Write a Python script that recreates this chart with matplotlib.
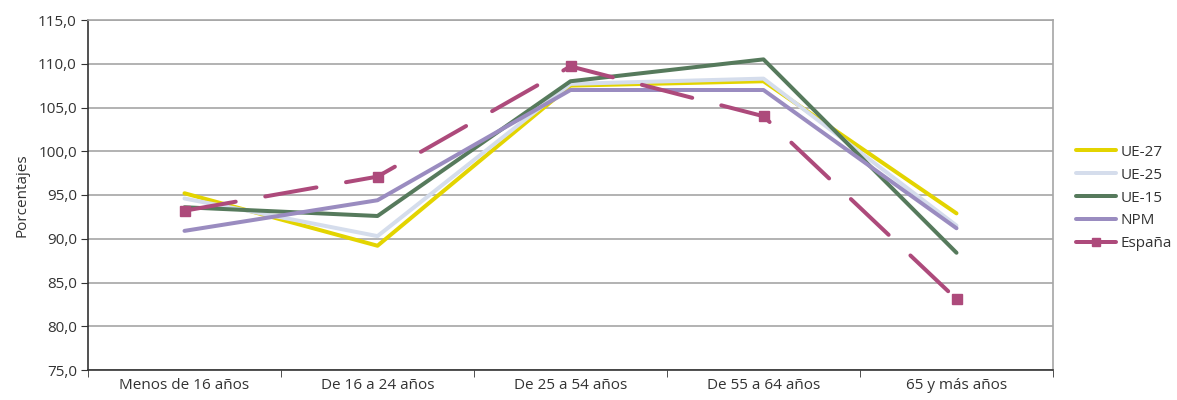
import matplotlib.pyplot as plt
import numpy as np

categorias = ['Menos de 16 años', 'De 16 a 24 años', 'De 25 a 54 años',
              'De 55 a 64 años', '65 y más años']
ue27 = [95.2, 89.2, 107.5, 108.0, 92.9]
ue25 = [94.6, 90.3, 107.7, 108.3, 91.5]
ue15 = [93.6, 92.6, 108.0, 110.5, 88.4]
npm = [90.9, 94.4, 107.0, 107.0, 91.2]
espana = [93.2, 97.1, 109.7, 104.0, 83.1]

plt.rcParams['font.family'] = ['Open Sans', 'DejaVu Sans']

fig = plt.figure(figsize=(11.77, 4.0), dpi=100)
ax = fig.add_axes([88/1177, 30/400, 965/1177, 350/400])

x = np.arange(len(categorias))
lw = 4.0 * 72 / 100
ax.plot(x, ue27, color='#e3d400', lw=lw, label='UE-27', solid_capstyle='round')
ax.plot(x, ue25, color='#d5ddec', lw=lw, label='UE-25', solid_capstyle='round')
ax.plot(x, ue15, color='#567a5c', lw=lw, label='UE-15', solid_capstyle='round')
ax.plot(x, npm, color='#9a8cc0', lw=lw, label='NPM', solid_capstyle='round')
ax.plot(x, espana, color='#ad4a7b', lw=lw, label='España', marker='s',
        markersize=7.5, dashes=(13, 7.5), dash_capstyle='round')

ax.set_xlim(-0.5, 4.5)
ax.set_ylim(75, 115)
ax.set_yticks(np.arange(75, 116, 5))
ax.set_yticklabels([('%.1f' % v).replace('.', ',') for v in np.arange(75, 116, 5)])
ax.set_xticks(x)
ax.set_xticklabels(categorias)
ax.set_xticks(np.arange(-0.5, 5, 1), minor=True)
ax.tick_params(axis='x', which='major', length=0, pad=6)
ax.tick_params(axis='x', which='minor', length=5, color='#333333')
ax.tick_params(axis='y', length=5, color='#333333', pad=3)
ax.tick_params(labelsize=11, labelcolor='#333333')
ax.yaxis.grid(True, color='#a6a6a6', lw=1.2)
ax.set_axisbelow(True)
for s in ['top', 'right']:
    ax.spines[s].set_color('#a6a6a6')
    ax.spines[s].set_linewidth(1.2)
for s in ['left', 'bottom']:
    ax.spines[s].set_color('#333333')
    ax.spines[s].set_linewidth(1.2)
ax.set_ylabel('Porcentajes', fontsize=11, color='#333333', labelpad=6)

fig.legend(loc='center left', bbox_to_anchor=(1073/1177, 1 - 198/400),
           frameon=False, fontsize=11, handlelength=2.6, handletextpad=0.3,
           labelspacing=0.52, labelcolor='#333333', markerscale=0.8,
           borderaxespad=0, borderpad=0.2)

fig.savefig('out.png', dpi=100)
